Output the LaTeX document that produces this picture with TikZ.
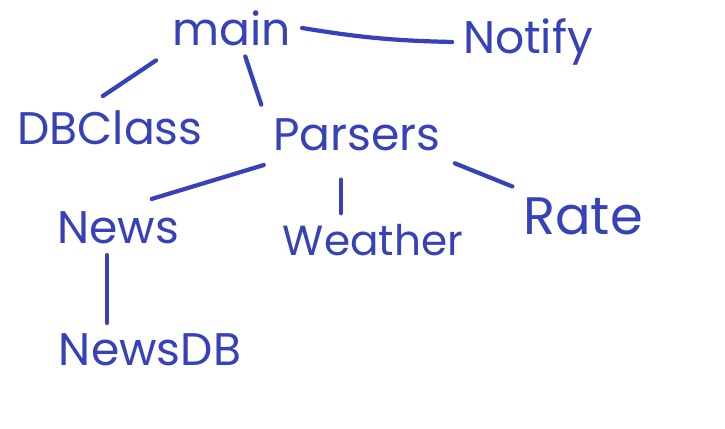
\documentclass[tikz,border=0pt]{standalone}
\usepackage{fontspec}
\setmainfont{Poppins}
\definecolor{ink}{RGB}{55,65,185}
\begin{document}
\begin{tikzpicture}[x=0.02cm,y=-0.02cm,
  every node/.style={color=ink,font=\fontsize{26}{30}\selectfont,inner sep=6pt},
  ln/.style={draw=ink,line width=2.4pt,line cap=round}]
   \useasboundingbox (0,0) rectangle (725,429);

   \node (main) at (232,28) {main};
   \node (notify) at (528,42) {Notify};
   \node (dbclass) at (110,128) {DBClass};
   \node (parsers) at (357,135) {Parsers};
   \node (news) at (118,228) {News};
   \node[font=\fontsize{24}{30}\selectfont] (weather) at (373,240) {Weather};
   \node[font=\fontsize{30}{32}\selectfont] (rate) at (583,216) {Rate};
   \node (newsdb) at (150,350) {NewsDB};

   \draw[ln] (main.east) to[bend right=4] (notify.west);
   \draw[ln,shorten <=4pt,shorten >=4pt] (main.south west) -- (dbclass.115);
   \draw[ln,shorten >=2pt] (main.-65) -- (parsers.north west);
   \draw[ln,shorten <=6pt,shorten >=4pt] (parsers.-162) -- (news.45);
   \draw[ln,shorten <=10pt] (parsers.south) ++(-16,0) coordinate (pw) -- (pw |- weather.north);
   \draw[ln,shorten <=2pt] (parsers.south east) -- (rate.north west);
   \draw[ln] (news.south) ++(-11,0) coordinate (nw) -- (nw |- newsdb.north);

 \end{tikzpicture}
\end{document}
